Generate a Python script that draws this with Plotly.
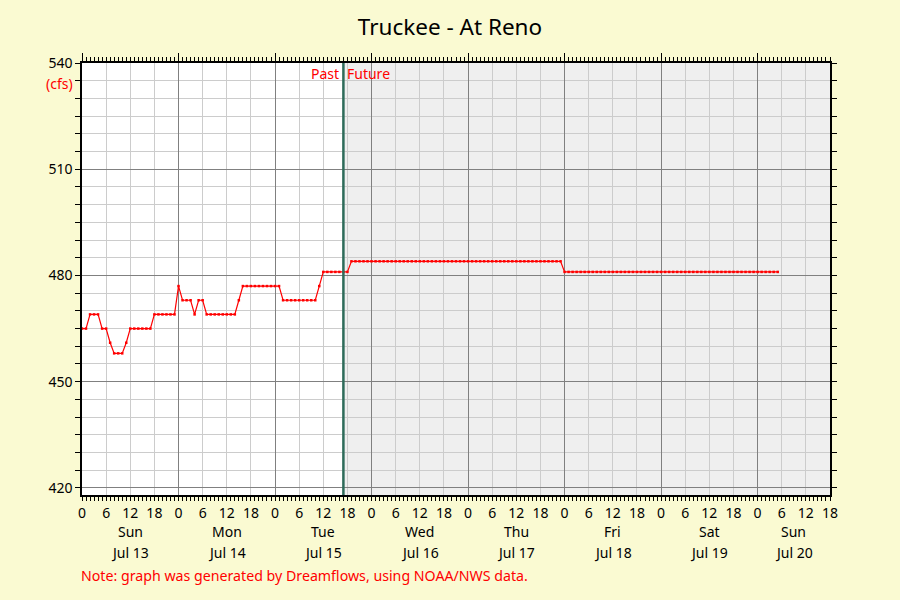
import pandas as pd
import plotly.graph_objects as go

# ---------------- data ----------------
title_text = "Truckee - At Reno"
obs_start = "2025-07-13 00:00"
# hourly observed flows (cfs), Jul 13 00:00 -> Jul 15 17:00
obs_values = [465, 465, 469, 469, 469, 465, 465, 461, 458, 458, 458, 461,
              465, 465, 465, 465, 465, 465, 469, 469, 469, 469, 469, 469,
              477, 473, 473, 473, 469, 473, 473, 469, 469, 469, 469, 469,
              469, 469, 469, 473, 477, 477, 477, 477, 477, 477, 477, 477,
              477, 477, 473, 473, 473, 473, 473, 473, 473, 473, 473, 477,
              481, 481, 481, 481, 481, 481]
# hourly forecast flows (cfs), Jul 15 18:00 -> Jul 20 05:00
fcst_values = ([481] + [484] * 53 + [481] * 54)

day_names = ["Sun", "Mon", "Tue", "Wed", "Thu", "Fri", "Sat", "Sun"]
day_dates = ["Jul 13", "Jul 14", "Jul 15", "Jul 16", "Jul 17", "Jul 18", "Jul 19", "Jul 20"]
hour_labels = ["0", "6", "12", "18"]
x_range = ["2025-07-13 00:00", "2025-07-20 18:00"]
y_range = [418, 540]
y_ticks = [420, 450, 480, 510, 540]
note_text = "Note: graph was generated by Dreamflows, using NOAA/NWS data."

# ---------------- build ----------------
all_values = obs_values + fcst_values
times = pd.date_range(obs_start, periods=len(all_values), freq="h")
now = times[len(obs_values) - 1]

RED = "#FF0000"
FONT = "Noto Sans"

fig = go.Figure()
# invisible trace to anchor the main (bottom) axis
fig.add_trace(go.Scatter(x=[times[0]], y=[all_values[0]], xaxis="x", yaxis="y",
                         mode="markers", marker=dict(opacity=0), showlegend=False,
                         hoverinfo="skip"))
fig.add_trace(go.Scatter(
    x=times, y=all_values, mode="lines+markers", xaxis="x2", yaxis="y",
    line=dict(color=RED, width=1.2),
    marker=dict(color=RED, size=2.5, symbol="square"),
    showlegend=False, hoverinfo="x+y"))

rstart, rend = pd.Timestamp(x_range[0]), pd.Timestamp(x_range[1])
tick_times = pd.date_range(rstart, rend, freq="6h")
tick_text = [hour_labels[(t.hour // 6) % 4] for t in tick_times]

fig.update_layout(
    width=900, height=600,
    paper_bgcolor="#FAFAD2", plot_bgcolor="white",
    margin=dict(l=82, r=70, t=63, b=105),
    font=dict(family=FONT, size=14, color="black"),
    title=dict(text=title_text, x=0.5, xanchor="center", y=0.955, yanchor="middle",
               font=dict(size=22.5, color="black", family=FONT)),
    xaxis=dict(type="date", range=x_range, tickmode="array",
               tickvals=tick_times, ticktext=tick_text,
               ticks="outside", ticklen=4, tickcolor="black", tickwidth=1,
               showgrid=True, gridcolor="#CCCCCC", gridwidth=1,
               showline=True, linecolor="black", linewidth=1.5,
               tickfont=dict(size=14), zeroline=False,
               minor=dict(dtick=3600000, ticks="outside", ticklen=4,
                          tickcolor="black", showgrid=False)),
    xaxis2=dict(type="date", range=x_range, overlaying="x", side="top",
                tick0=x_range[0], dtick=86400000, showticklabels=False,
                ticks="outside", ticklen=8, tickcolor="black", tickwidth=1,
                showgrid=True, gridcolor="#808080", gridwidth=1,
                showline=True, linecolor="black", linewidth=1.5,
                minor=dict(dtick=3600000, ticks="outside", ticklen=4,
                           tickcolor="black", showgrid=False)),
    yaxis=dict(range=y_range, tickmode="array", tickvals=y_ticks,
               ticks="outside", ticklen=5, tickcolor="black",
               showgrid=True, gridcolor="#808080", gridwidth=1,
               showline=True, linecolor="black", linewidth=1.5,
               mirror="ticks", zeroline=False, tickfont=dict(size=14),
               minor=dict(dtick=5, tick0=420, ticks="outside", ticklen=5,
                          tickcolor="black", showgrid=True,
                          gridcolor="#CCCCCC", gridwidth=1)),
)

# future shading and past/future divider
fig.add_shape(type="rect", xref="x", yref="y domain", x0=now, x1=rend, y0=0, y1=1,
              fillcolor="#EFEFEF", line=dict(width=0), layer="below")
fig.add_shape(type="line", xref="x", yref="y domain", x0=now, x1=now, y0=0, y1=1,
              line=dict(color="#2E6B5A", width=2.5), layer="above")

fig.add_annotation(x=now, xref="x", y=1, yref="paper", text="Past", showarrow=False,
                   xanchor="right", yanchor="top", xshift=-2, yshift=1,
                   font=dict(color=RED, size=14))
fig.add_annotation(x=now, xref="x", y=1, yref="paper", text="Future", showarrow=False,
                   xanchor="left", yanchor="top", xshift=2, yshift=1,
                   font=dict(color=RED, size=14))

# units label
fig.add_annotation(x=0, xref="paper", y=1, yref="paper", text="(cfs)", showarrow=False,
                   xanchor="right", yanchor="middle", xshift=-7, yshift=-20,
                   font=dict(color=RED, size=14))

# day labels centred on visible part of each day
for i, (dn, dd) in enumerate(zip(day_names, day_dates)):
    d0 = rstart + pd.Timedelta(days=i)
    d1 = min(d0 + pd.Timedelta(days=1), rend)
    mid = d0 + (d1 - d0) / 2
    fig.add_annotation(x=mid, xref="x", y=0, yref="paper", text=dn, showarrow=False,
                       xanchor="center", yanchor="middle", yshift=-36,
                       font=dict(size=14))
    fig.add_annotation(x=mid, xref="x", y=0, yref="paper", text=dd, showarrow=False,
                       xanchor="center", yanchor="middle", yshift=-57,
                       font=dict(size=14))

fig.add_annotation(x=0, xref="paper", y=0, yref="paper", text=note_text, showarrow=False,
                   xanchor="left", yanchor="middle", xshift=-3, yshift=-80,
                   font=dict(color=RED, size=14.2))

fig.write_html("out.html", config={"displayModeBar": False},
               post_script="document.body.style.margin='0';document.body.style.padding='0';")
